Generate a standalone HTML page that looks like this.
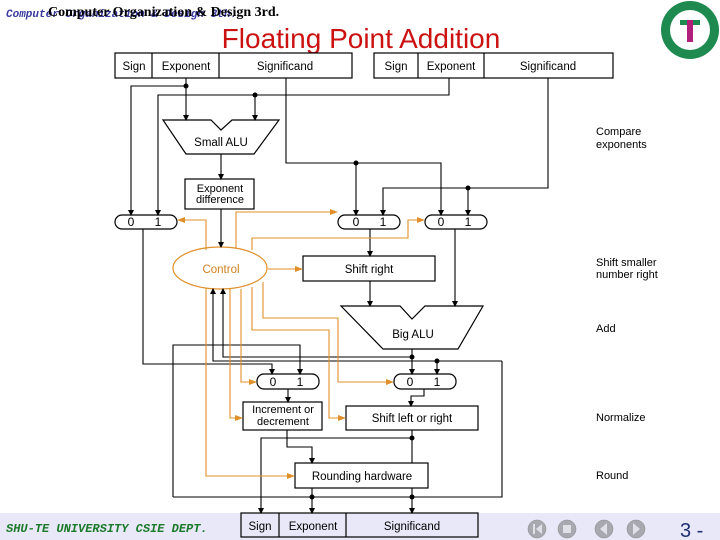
<!DOCTYPE html>
<html><head><style>
html,body{margin:0;padding:0;background:#fff;}
svg{display:block;font-family:"Liberation Sans",sans-serif;}
</style></head><body>
<svg width="720" height="540" viewBox="0 0 720 540" xmlns="http://www.w3.org/2000/svg">
<defs>
<marker id="ab" markerWidth="6" markerHeight="6" refX="5" refY="3" orient="auto" markerUnits="userSpaceOnUse"><path d="M0,0 L6,3 L0,6z" fill="#000"/></marker>
<marker id="ao" markerWidth="8" markerHeight="6" refX="7" refY="3" orient="auto" markerUnits="userSpaceOnUse"><path d="M0,0 L8,3 L0,6z" fill="#e0902a"/></marker>
</defs>
<rect x="0" y="513" width="720" height="27" fill="#e8e8f8"/>
<!-- header -->
<text x="6" y="17" font-family="Liberation Mono,monospace" font-style="italic" font-weight="bold" font-size="11" fill="#3a3aa0">Computer Organization &amp; Design 3th.</text>
<text x="48" y="16" font-family="Liberation Serif,serif" font-weight="bold" font-size="14" fill="#000">Computer Organization &amp; Design 3rd.</text>
<text x="361" y="48" text-anchor="middle" font-size="28" fill="#cc1111">Floating Point Addition</text>
<circle cx="690" cy="30" r="29" fill="#1e8a50"/>
<circle cx="690" cy="30" r="20" fill="#fff"/>
<rect x="680" y="20" width="20" height="5" fill="#1e8a50"/><rect x="687" y="20" width="6" height="22" fill="#b0207a"/>
<!-- registers -->
<g fill="none" stroke="#000" stroke-width="1.2">
<rect x="115" y="53" width="237" height="25" fill="#fff"/><line x1="152" y1="53" x2="152" y2="78"/><line x1="219" y1="53" x2="219" y2="78"/>
<rect x="374" y="53" width="239" height="25" fill="#fff"/><line x1="418" y1="53" x2="418" y2="78"/><line x1="484" y1="53" x2="484" y2="78"/>
<rect x="241" y="513" width="237" height="24" fill="#e8e8f8"/><line x1="279" y1="513" x2="279" y2="537"/><line x1="346" y1="513" x2="346" y2="537"/>
<path d="M163,120 L211,120 L221,130 L232,120 L279,120 L254,154 L186,154 Z" fill="#fff"/>
<rect x="185" y="179" width="69" height="30" fill="#fff"/>
<rect x="303" y="256" width="132" height="25" fill="#fff"/>
<path d="M341,306 L400,306 L412,319 L425,306 L483,306 L458,349 L383,349 Z" fill="#fff"/>
<rect x="243" y="402" width="79" height="28" fill="#fff"/>
<rect x="346" y="406" width="132" height="24" fill="#fff"/>
<rect x="295" y="463" width="133" height="25" fill="#fff"/>
<rect x="115" y="215" width="62" height="14" rx="7"/>
<rect x="338" y="215" width="62" height="14" rx="7"/>
<rect x="425" y="215" width="62" height="14" rx="7"/>
<rect x="257" y="374" width="62" height="15" rx="7"/>
<rect x="394" y="374" width="62" height="15" rx="7"/>
</g>
<ellipse cx="220" cy="268" rx="47" ry="21" fill="#fff" stroke="#e0902a" stroke-width="1.2"/>
<!-- black wires -->
<g fill="none" stroke="#000" stroke-width="1.1">
<path d="M186,78 V120" marker-end="url(#ab)"/>
<path d="M186,86 H131 V215" marker-end="url(#ab)"/>
<path d="M449,78 V95 H158 V215" marker-end="url(#ab)"/>
<path d="M255,95 V120" marker-end="url(#ab)"/>
<path d="M221,154 V179" marker-end="url(#ab)"/>
<path d="M221,209 V247" marker-end="url(#ab)"/>
<path d="M286,78 V163 H441 V215" marker-end="url(#ab)"/>
<path d="M356,163 V215" marker-end="url(#ab)"/>
<path d="M548,78 V188 H383 V215" marker-end="url(#ab)"/>
<path d="M468,188 V215" marker-end="url(#ab)"/>
<path d="M370,229 V256" marker-end="url(#ab)"/>
<path d="M370,281 V306" marker-end="url(#ab)"/>
<path d="M455,229 V306" marker-end="url(#ab)"/>
<path d="M143,229 V364 H272 V374" marker-end="url(#ab)"/>
<path d="M173,497 V345 H300 V374" marker-end="url(#ab)"/>
<path d="M412,349 V374" marker-end="url(#ab)"/>
<path d="M437,361 V374" marker-end="url(#ab)"/>
<path d="M412,357 H223 V289" marker-end="url(#ab)"/>
<path d="M502,361 H213 V289" marker-end="url(#ab)"/>
<path d="M502,361 V497 H173"/>
<path d="M288,389 V402" marker-end="url(#ab)"/>
<path d="M424,389 V396 H411 V406" marker-end="url(#ab)"/>
<path d="M412,430 V463"/>
<path d="M412,438 H261 V513" marker-end="url(#ab)"/>
<path d="M287,430 V447 H312 V463" marker-end="url(#ab)"/>
<path d="M312,488 V513" marker-end="url(#ab)"/>
<path d="M412,488 V513" marker-end="url(#ab)"/>
</g>
<g fill="#000">
<circle cx="186" cy="86" r="2.5"/><circle cx="255" cy="95" r="2.5"/><circle cx="356" cy="163" r="2.5"/><circle cx="468" cy="188" r="2.5"/>
<circle cx="412" cy="357" r="2.5"/><circle cx="437" cy="361" r="2.5"/><circle cx="412" cy="438" r="2.5"/><circle cx="312" cy="497" r="2.5"/><circle cx="412" cy="497" r="2.5"/>
</g>
<!-- orange wires -->
<g fill="none" stroke="#e0902a" stroke-width="1.1">
<path d="M206,250 V220 H178" marker-end="url(#ao)"/>
<path d="M236,248 V212 H337" marker-end="url(#ao)"/>
<path d="M252,250 V238 H408 V220 H424" marker-end="url(#ao)"/>
<path d="M268,269 H302" marker-end="url(#ao)"/>
<path d="M206,288 V476 H294" marker-end="url(#ao)"/>
<path d="M230,289 V418 H242" marker-end="url(#ao)"/>
<path d="M241,289 V382 H256" marker-end="url(#ao)"/>
<path d="M252,287 V330 H329 V418 H345" marker-end="url(#ao)"/>
<path d="M263,282 V318 H338 V382 H393" marker-end="url(#ao)"/>
</g>
<!-- text -->
<g font-size="11.5" fill="#000" text-anchor="middle">
<text x="134" y="70">Sign</text><text x="186" y="70">Exponent</text><text x="285" y="70">Significand</text>
<text x="396" y="70">Sign</text><text x="451" y="70">Exponent</text><text x="548" y="70">Significand</text>
<text x="260" y="530">Sign</text><text x="313" y="530">Exponent</text><text x="412" y="530">Significand</text>
<text x="221" y="146">Small ALU</text>
<text x="220" y="192" font-size="11">Exponent</text><text x="220" y="203" font-size="11">difference</text>
<text x="369" y="273">Shift right</text>
<text x="413" y="338">Big ALU</text>
<text x="283" y="413" font-size="11">Increment or</text><text x="283" y="425" font-size="11">decrement</text>
<text x="412" y="422">Shift left or right</text>
<text x="362" y="480">Rounding hardware</text>
<text x="221" y="273" fill="#d08020">Control</text>
<g font-size="12">
<text x="131" y="226">0</text><text x="158" y="226">1</text>
<text x="356" y="226">0</text><text x="383" y="226">1</text>
<text x="441" y="226">0</text><text x="468" y="226">1</text>
<text x="273" y="386">0</text><text x="300" y="386">1</text>
<text x="410" y="386">0</text><text x="437" y="386">1</text>
</g>
</g>
<g font-size="11" fill="#000">
<text x="596" y="135">Compare</text><text x="596" y="148">exponents</text>
<text x="596" y="266">Shift smaller</text><text x="596" y="278">number right</text>
<text x="596" y="332">Add</text>
<text x="596" y="421">Normalize</text>
<text x="596" y="479">Round</text>
</g>
<!-- footer -->
<text x="6" y="532" font-family="Liberation Mono,monospace" font-style="italic" font-weight="bold" font-size="12" fill="#1a7a2a">SHU-TE UNIVERSITY CSIE DEPT.</text>
<g fill="#a8a8b0" stroke="#888" stroke-width="0.5">
<circle cx="537" cy="529" r="9"/><circle cx="567" cy="529" r="9"/><circle cx="604" cy="529" r="9"/><circle cx="636" cy="529" r="9"/>
</g>
<g fill="#e0e0e6">
<rect x="533" y="524" width="2" height="10"/><path d="M536,529 L542,524 V534Z"/>
<rect x="563" y="525" width="8" height="8"/>
<path d="M600,529 L607,523 V535Z"/><path d="M640,529 L633,523 V535Z"/>
</g>
<text x="680" y="537" font-size="20" fill="#203070">3 -</text>
</svg>
</body></html>
